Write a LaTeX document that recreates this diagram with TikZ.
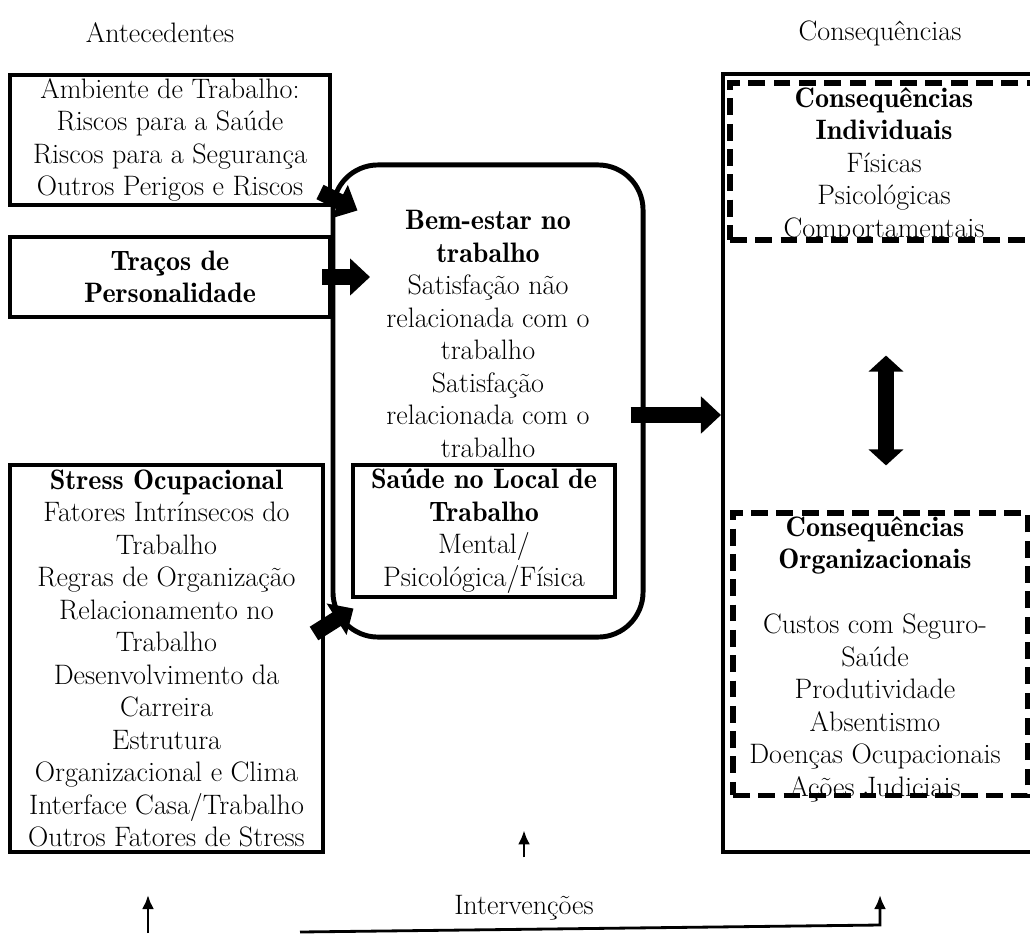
\documentclass[tikz,border=0pt]{standalone}
\usetikzlibrary{arrows.meta}
\newcommand{\hdr}[1]{{\fontseries{b}\selectfont #1}}
\begin{document}
\begin{tikzpicture}[x=0.025cm, y=-0.025cm]
		    \tikzset{>=latex,
			lbl/.style={align=center, inner sep=0pt, font=\fontsize{20}{23.1}\selectfont},
			box/.style={lbl, draw, line width=2.8pt},
			dashbox/.style={draw, line width=3.6pt, dash pattern=on 12pt off 6pt, inner sep=0pt},
			fatarrow/.style={line width=0.4cm, -{Triangle[length=0.5cm, width=0.9cm]}},
			dblarrow/.style={line width=0.4cm, {Triangle[length=0.4cm, width=0.85cm]}-{Triangle[length=0.4cm, width=0.85cm]}},
			thinarrow/.style={line width=2pt, -{Latex[length=0.35cm, width=0.3cm]}}}
		    \useasboundingbox (0,0) rectangle (1030,933);
		    \node [lbl] (ante) at (160,33) {Antecedentes};
		    \node [lbl] (conseq) at (880,33) {Consequências};
		    \node [lbl] (interv) at (524,908) {Intervenções};
		    \node [box, minimum width=8cm, minimum height=3.25cm] (amb) at (170,140) {Ambiente de Trabalho:\\Riscos para a Saúde\\Riscos para a Segurança\\Outros Perigos e Riscos};
		    \node [box, minimum width=8cm, minimum height=2cm] (tracos) at (170,277) {\hdr{Traços de}\\\hdr{Personalidade}};
		    \node [box, minimum width=7.825cm, minimum height=9.675cm] (stress) at (166.5,658.5) {\hdr{Stress Ocupacional}\\Fatores Intrínsecos do\\Trabalho\\Regras de Organização\\Relacionamento no\\Trabalho\\Desenvolvimento da\\Carreira\\Estrutura\\Organizacional e Clima\\Interface Casa/Trabalho\\Outros Fatores de Stress};
		    \node [draw, line width=3.5pt, rounded corners=1.125cm, minimum width=7.75cm, minimum height=11.8cm] (bem) at (488,401) {};
		    \node [lbl] (bemtxt) at (488,334) {\hdr{Bem-estar no}\\\hdr{trabalho}\\Satisfação não\\relacionada com o\\trabalho\\Satisfação\\relacionada com o\\trabalho};
		    \node [box, line width=2.4pt, minimum width=6.55cm, minimum height=3.3cm] (saude) at (484,531) {\hdr{Saúde no Local de}\\\hdr{Trabalho}\\Mental/\\Psicológica/Física};
		    \node [draw, line width=2.8pt, minimum width=7.925cm, minimum height=19.45cm] (cons) at (881.5,463) {};
		    \node [lbl] (indivtxt) at (884,165) {\hdr{Consequências}\\\hdr{Individuais}\\Físicas\\Psicológicas\\Comportamentais};
		    \node [lbl] (orgtxt) at (875,659) {\hdr{Consequências}\\\hdr{Organizacionais}\\[23.1pt]Custos com Seguro-\\Saúde\\Produtividade\\Absentismo\\Doenças Ocupacionais\\Ações Judiciais};
		    \node [dashbox, minimum width=7.65cm, minimum height=3.925cm] (indiv) at (883,161.5) {};
		    \node [dashbox, minimum width=7.35cm, minimum height=7.05cm] (org) at (880,654) {};
		    \draw [fatarrow] ([shift={(-12,-15)}]amb.south east) -- ([shift={(27,48)}]bem.north west);
		    \draw [fatarrow] ([shift={(-10,0)}]tracos.east) -- ++(48,0);
		    \draw [fatarrow] ([shift={(-11,-25)}]stress.east) -- ([shift={(23,-31)}]bem.south west);
		    \draw [fatarrow] ([shift={(-15,14)}]bem.east) -- ([shift={(0,-48)}]cons.west);
		    \draw [dblarrow] ([shift={(3,113)}]indiv.south) -- ([shift={(6,-45)}]org.north);
		    \coordinate (lft) at (148,933);
		    \coordinate (bot) at (300,932);
		    \coordinate (rgt) at (880,925);
		    \draw [thinarrow] ([shift={(0,-38)}]interv.north) -- ++(0,-27);
		    \draw [thinarrow] (lft) -- ++(0,-38);
		    \draw [thinarrow] (bot) -- (rgt) -- ++(0,-30);
		\end{tikzpicture}
\end{document}
